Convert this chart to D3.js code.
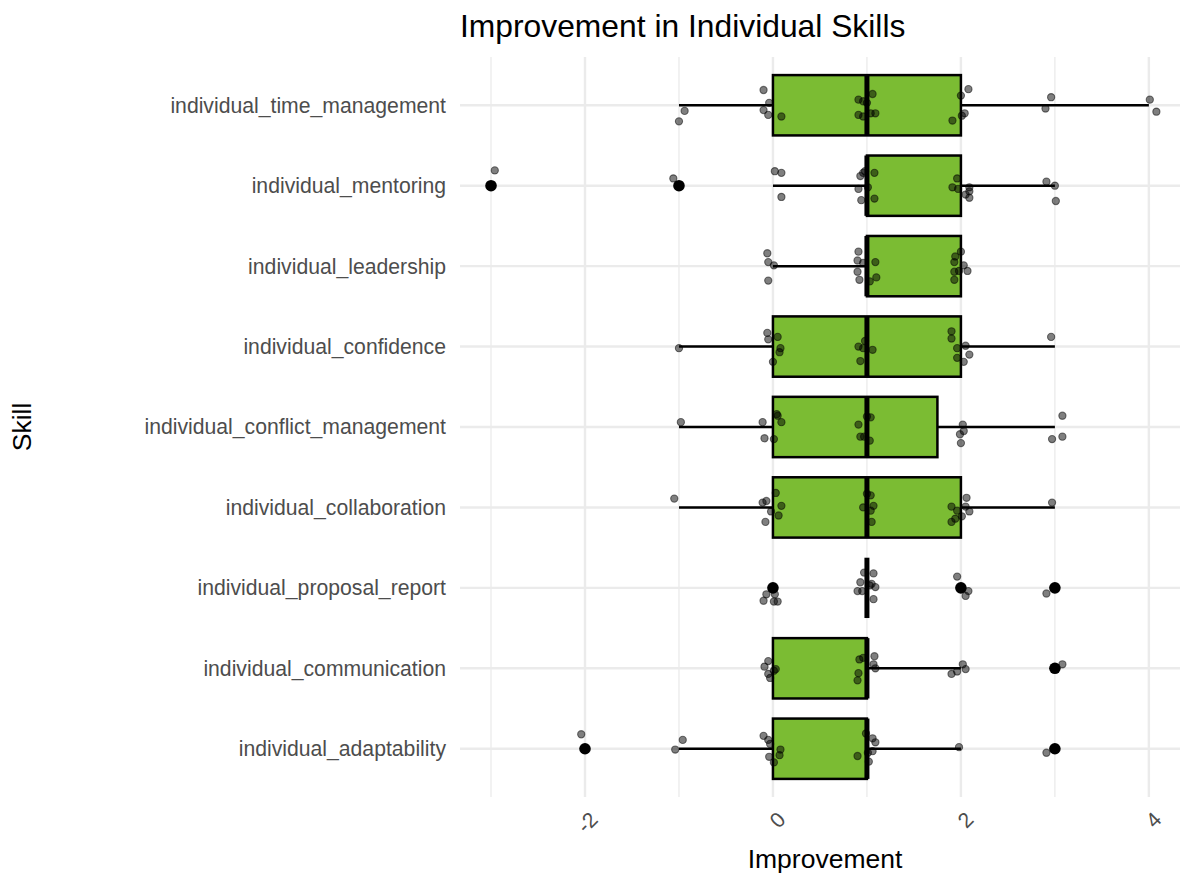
<!DOCTYPE html>
<html>
<head>
<meta charset="utf-8">
<script src="https://cdn.jsdelivr.net/npm/d3@7"></script>
<style>
  html, body { margin: 0; padding: 0; background: #ffffff; }
  svg { display: block; font-family: "Liberation Sans", Arial, sans-serif; }
</style>
</head>
<body>
<svg id="chart" width="1180" height="874"></svg>
<script>
// ---------- data ----------
const skills = [
  "individual_time_management",
  "individual_mentoring",
  "individual_leadership",
  "individual_confidence",
  "individual_conflict_management",
  "individual_collaboration",
  "individual_proposal_report",
  "individual_communication",
  "individual_adaptability"
];

// box statistics (same order as skills)
const q1Values      = [0, 1, 1, 0, 0,    0, 1, 0, 0];
const medianValues  = [1, 1, 1, 1, 1,    1, 1, 1, 1];
const q3Values      = [2, 2, 2, 2, 1.75, 2, 1, 1, 1];
const whiskerLow    = [-1, 0, 0, -1, -1, -1, 1, 0, -1];
const whiskerHigh   = [4, 3, 2, 3, 3, 3, 1, 2, 2];
const outlierValues = [[], [-3, -1], [], [], [], [], [0, 2, 3], [3], [-2, 3]];

// jittered points: [improvement (with horizontal jitter), vertical jitter in category steps]
const timeManagementPts = [[-0.10,-0.19],[-0.94,0.07],[-1.00,0.20],[-0.04,-0.03],[-0.10,0.06],[-0.05,0.12],[0.09,0.14],[0.91,-0.07],[0.96,-0.05],[1.06,-0.14],[1.00,-0.03],[0.91,0.12],[0.96,0.14],[1.04,0.10],[1.09,0.10],[2.08,-0.20],[2.00,-0.12],[2.04,0.10],[2.01,0.13],[1.91,0.19],[2.96,-0.10],[2.90,0.04],[4.01,-0.07],[4.08,0.08]];
const mentoringPts = [[-2.96,-0.19],[-1.06,-0.09],[0.02,-0.18],[0.09,-0.16],[0.09,0.14],[0.93,-0.12],[0.96,-0.16],[0.98,-0.18],[1.08,-0.16],[0.91,0.04],[1.01,0.02],[0.94,0.18],[1.08,0.16],[1.96,-0.09],[1.91,0.02],[1.97,0.04],[2.09,0.02],[2.09,0.07],[2.05,0.11],[2.09,0.15],[2.91,-0.05],[3.00,0.00],[3.01,0.19]];
const leadershipPts = [[-0.06,-0.16],[-0.05,-0.05],[0.01,-0.01],[-0.05,0.18],[0.91,-0.18],[0.90,-0.07],[0.96,-0.04],[1.09,-0.05],[0.90,0.07],[0.92,0.17],[1.03,0.19],[1.10,0.14],[2.00,-0.18],[1.94,-0.12],[1.93,-0.05],[2.03,-0.01],[2.07,0.06],[1.93,0.07],[1.98,0.06],[1.93,0.17]];
const confidencePts = [[-1.00,0.02],[-0.06,-0.17],[0.05,-0.12],[-0.05,-0.09],[0.08,0.02],[0.07,0.07],[0.00,0.19],[0.91,0.00],[0.96,0.02],[1.06,0.04],[0.93,0.18],[0.98,-0.07],[1.90,-0.19],[1.90,-0.10],[1.96,0.02],[1.96,0.14],[2.05,-0.01],[2.09,0.10],[2.03,0.19],[2.96,-0.12]];
const conflictPts = [[-0.98,-0.06],[-0.11,-0.06],[-0.09,0.14],[0.01,0.15],[0.04,-0.16],[0.05,-0.14],[0.09,-0.06],[0.91,-0.03],[0.93,0.12],[0.97,0.12],[1.00,-0.13],[1.04,-0.12],[1.03,0.17],[2.02,-0.03],[2.03,0.05],[1.99,0.09],[2.00,0.20],[3.08,-0.14],[3.08,0.12],[2.97,0.15]];
const collaborationPts = [[-1.05,-0.11],[-0.11,-0.06],[-0.07,-0.08],[0.03,-0.18],[0.09,-0.02],[-0.02,0.05],[0.06,0.10],[-0.08,0.18],[1.00,-0.17],[1.04,-0.15],[0.96,0.00],[1.07,-0.02],[1.04,0.04],[1.05,0.18],[1.90,-0.01],[1.96,0.04],[1.94,0.14],[1.90,0.18],[2.06,-0.12],[2.05,-0.01],[2.09,0.05],[2.01,0.11],[2.97,-0.06]];
const proposalPts = [[-0.07,0.08],[-0.10,0.16],[0.01,0.17],[0.05,0.17],[0.02,0.08],[0.97,-0.19],[1.07,-0.18],[0.93,-0.07],[1.05,-0.05],[0.90,0.04],[0.95,0.04],[1.09,-0.01],[1.07,0.14],[1.03,-0.03],[1.96,-0.14],[2.08,0.04],[2.05,0.10],[2.91,0.07]];
const communicationPts = [[-0.05,-0.09],[-0.09,-0.02],[0.03,0.01],[-0.05,0.07],[-0.03,0.12],[0.01,0.03],[0.92,-0.11],[0.96,-0.13],[1.08,-0.15],[1.07,-0.05],[1.09,0.00],[0.91,0.06],[0.90,0.15],[2.02,-0.05],[2.05,0.01],[1.96,0.04],[1.90,0.07],[3.08,-0.05]];
const adaptabilityPts = [[-2.04,-0.18],[-0.96,-0.11],[-1.04,0.01],[-0.10,-0.16],[-0.05,-0.11],[-0.03,-0.06],[0.08,0.01],[0.07,0.08],[-0.04,0.10],[0.01,0.17],[0.99,-0.19],[1.06,-0.13],[1.09,-0.08],[0.90,0.09],[1.01,0.05],[1.06,0.03],[1.02,0.16],[1.98,-0.02],[2.91,0.05]];

const pointsBySkill = [timeManagementPts, mentoringPts, leadershipPts, confidencePts, conflictPts,
                       collaborationPts, proposalPts, communicationPts, adaptabilityPts];

const majorTicks = [-2, 0, 2, 4];
const minorTicks = [-3, -1, 1, 3];
const xTickLabels = ["-2", "0", "2", "4"];

const titleText = "Improvement in Individual Skills";
const xTitle = "Improvement";
const yTitle = "Skill";

// ---------- layout ----------
const panel = { left: 460, right: 1178, top: 57, bottom: 797 };
const svg = d3.select("#chart");

const x = d3.scaleLinear().domain([-3.33, 4.31]).range([panel.left, panel.right]);
const y = d3.scalePoint().domain(skills).range([panel.top, panel.bottom]).padding(0.6);
const step = y.step();
const boxHalf = step * 0.375;

const gridColor = "#EBEBEB";
const textGrey = "#4D4D4D";
const boxFill = "#7BBC33";

// grid
const grid = svg.append("g");
grid.selectAll("line.minor").data(minorTicks).join("line")
  .attr("x1", d => x(d)).attr("x2", d => x(d))
  .attr("y1", panel.top).attr("y2", panel.bottom)
  .attr("stroke", gridColor).attr("stroke-width", 1.3);
grid.selectAll("line.majorx").data(majorTicks).join("line")
  .attr("x1", d => x(d)).attr("x2", d => x(d))
  .attr("y1", panel.top).attr("y2", panel.bottom)
  .attr("stroke", gridColor).attr("stroke-width", 2.4);
grid.selectAll("line.majory").data(skills).join("line")
  .attr("x1", panel.left).attr("x2", 1180)
  .attr("y1", d => y(d)).attr("y2", d => y(d))
  .attr("stroke", gridColor).attr("stroke-width", 2.4);

// boxplots
const boxes = svg.append("g");
skills.forEach((s, i) => {
  const cy = y(s);
  const g = boxes.append("g");
  g.append("line")
    .attr("x1", x(whiskerLow[i])).attr("x2", x(q1Values[i]))
    .attr("y1", cy).attr("y2", cy)
    .attr("stroke", "#000").attr("stroke-width", 2.5);
  g.append("line")
    .attr("x1", x(q3Values[i])).attr("x2", x(whiskerHigh[i]))
    .attr("y1", cy).attr("y2", cy)
    .attr("stroke", "#000").attr("stroke-width", 2.5);
  g.append("rect")
    .attr("x", x(q1Values[i])).attr("y", cy - boxHalf)
    .attr("width", x(q3Values[i]) - x(q1Values[i])).attr("height", boxHalf * 2)
    .attr("fill", boxFill).attr("stroke", "#000").attr("stroke-width", 2.5);
  g.append("line")
    .attr("x1", x(medianValues[i])).attr("x2", x(medianValues[i]))
    .attr("y1", cy - boxHalf).attr("y2", cy + boxHalf)
    .attr("stroke", "#000").attr("stroke-width", 5);
  g.selectAll("circle").data(outlierValues[i]).join("circle")
    .attr("cx", d => x(d)).attr("cy", cy).attr("r", 5.8).attr("fill", "#000");
});

// jittered points
const pts = svg.append("g");
skills.forEach((s, i) => {
  pts.append("g").selectAll("circle").data(pointsBySkill[i]).join("circle")
    .attr("cx", d => x(d[0]))
    .attr("cy", d => y(s) + d[1] * step)
    .attr("r", 3.6)
    .attr("fill", "#000").attr("fill-opacity", 0.5)
    .attr("stroke", "#000").attr("stroke-opacity", 0.5).attr("stroke-width", 1.1);
});

// y axis labels
svg.append("g").selectAll("text").data(skills).join("text")
  .attr("x", 446).attr("y", d => y(d)).attr("dy", "0.35em")
  .attr("text-anchor", "end").attr("fill", textGrey)
  .attr("font-size", 21.2).text(d => d);

// x tick labels (rotated)
svg.append("g").selectAll("text").data(majorTicks).join("text")
  .attr("transform", d => `translate(${x(d) + 14},${821}) rotate(-45)`)
  .attr("text-anchor", "end").attr("fill", textGrey)
  .attr("font-size", 21.2).text((d, i) => xTickLabels[i]);

// titles
svg.append("text").attr("x", panel.left).attr("y", 37)
  .attr("font-size", 31.8).attr("fill", "#000").text(titleText);
svg.append("text").attr("x", 825).attr("y", 868)
  .attr("text-anchor", "middle").attr("font-size", 26.5).attr("fill", "#000").text(xTitle);
svg.append("text").attr("transform", "translate(31,427) rotate(-90)")
  .attr("text-anchor", "middle").attr("font-size", 26.5).attr("fill", "#000").text(yTitle);
</script>
</body>
</html>
